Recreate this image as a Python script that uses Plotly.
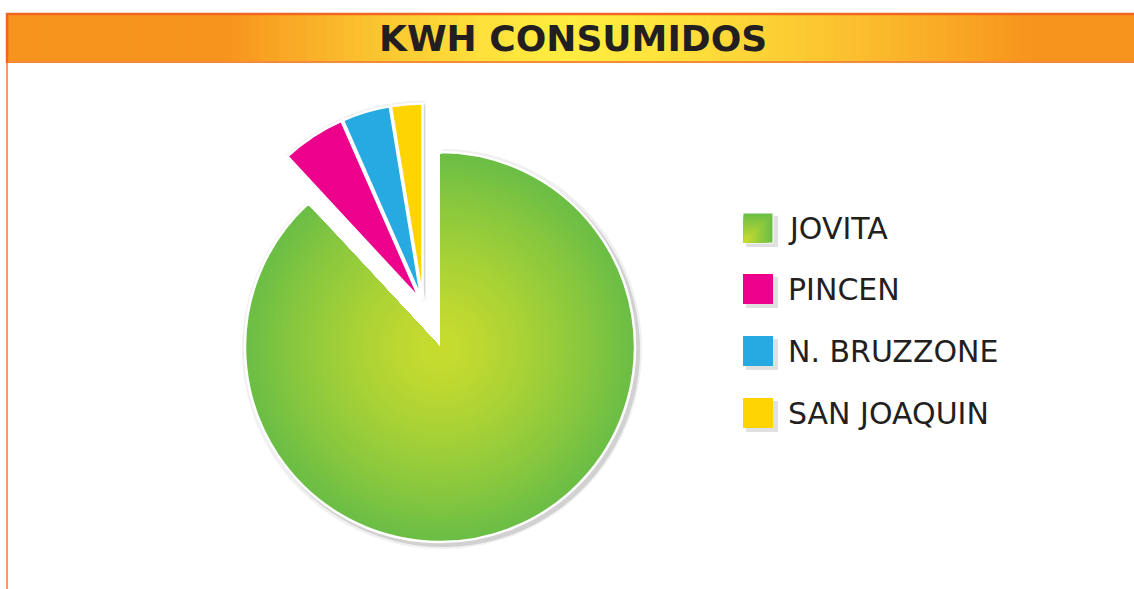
import plotly.graph_objects as go

# ---------------- data ----------------
categories = ["JOVITA", "PINCEN", "N. BRUZZONE", "SAN JOAQUIN"]
kwh_share = [88.1, 5.3, 4.0, 2.6]
slice_colors = ["#6BBE45", "#EC008C", "#27AAE1", "#FFD400"]
exploded = [False, True, True, True]
title_text = "KWH CONSUMIDOS"

# ---------------- layout helpers ----------------
W, H = 1134, 589
CLEAR = "rgba(0,0,0,0)"


def px(x):
    return x / W


def py(y):
    return 1 - y / H


def clamp(v):
    return min(max(v, 0.0), 1.0)


def hex2rgb(h):
    h = h.lstrip("#")
    return tuple(int(h[i:i + 2], 16) for i in (0, 2, 4))


def mix(c1, c2, t):
    a, b = hex2rgb(c1), hex2rgb(c2)
    return "rgb(%d,%d,%d)" % tuple(round(a[i] + (b[i] - a[i]) * t) for i in range(3))


def domain(cx, cy, radius, pull=0.0):
    s = radius * (1 + pull)
    return dict(x=[clamp(px(cx - s)), clamp(px(cx + s))],
                y=[clamp(py(cy + s)), clamp(py(cy - s))])


CX, CY, R = 440, 347, 195          # main (unexploded) pie centre / radius
GX, GY = 423, 304                  # centre of the exploded group
GPULL = 0.028

fig = go.Figure()


def pie(colors, dom, pull=0.0, line=None, hover=False):
    return go.Pie(
        labels=categories, values=kwh_share, sort=False, direction="clockwise",
        rotation=0, pull=pull, textinfo="none",
        hoverinfo=None if hover else "skip",
        marker=dict(colors=colors, line=line or dict(width=0)),
        domain=dom, showlegend=False,
    )


main_mask = [c if not e else CLEAR for c, e in zip(slice_colors, exploded)]
group_mask = [c if e else CLEAR for c, e in zip(slice_colors, exploded)]
gpulls = [GPULL if e else 0 for e in exploded]

# shadows
for off, grow, alpha in [(2, 5, 0.06), (3, 2, 0.13)]:
    sh = "rgba(0,0,0,%s)" % alpha
    fig.add_trace(pie([sh if not e else CLEAR for e in exploded],
                      domain(CX + off, CY + off, R + grow)))
    fig.add_trace(pie([sh if e else CLEAR for e in exploded],
                      domain(GX + off, GY + off, R + grow, GPULL), pull=gpulls))

# main green slice
fig.add_trace(pie(main_mask, domain(CX, CY, R),
                  line=dict(color=["white" if not e else CLEAR for e in exploded], width=2.5),
                  hover=True))

# radial gradient on the big slice (nested pies)
outer_c, inner_c = "#6BBE45", "#C9DC2E"
n = 40
for k in range(n):
    rad = (R - 2) * (1 - k / n)
    t = (rad / R) ** 1.3
    col = mix(inner_c, outer_c, t)
    fig.add_trace(pie([col if not e else CLEAR for e in exploded], domain(CX, CY, rad)))

# exploded group
fig.add_trace(pie(group_mask, domain(GX, GY, R, GPULL), pull=gpulls,
                  line=dict(color=["white" if e else CLEAR for e in exploded], width=2.5),
                  hover=True))

shapes = []
# title bar gradient
x0, x1, y0, y1 = 6, 1134, 14, 62
edge_c, mid_c = "#F7941D", "#FFEC40"
center_x = 570
steps = 120
for i in range(steps):
    a = x0 + (x1 - x0) * i / steps
    b = x0 + (x1 - x0) * (i + 1) / steps + 2
    m = (a + b) / 2
    if m < center_x:
        d = (center_x - m) / (center_x - 230)
    else:
        d = (m - center_x) / (1030 - center_x)
    d = min(max(d, 0), 1)
    t = d ** 1.4
    shapes.append(dict(type="rect", xref="paper", yref="paper",
                       x0=px(a), x1=clamp(px(b)), y0=py(y1), y1=py(y0),
                       fillcolor=mix(mid_c, edge_c, t), line=dict(width=0), layer="below"))
# bar borders
shapes.append(dict(type="line", xref="paper", yref="paper", x0=px(x0), x1=px(x1), y0=py(14), y1=py(14),
                   line=dict(color="#F26522", width=2.5)))
shapes.append(dict(type="line", xref="paper", yref="paper", x0=px(x0), x1=px(x1), y0=py(62), y1=py(62),
                   line=dict(color="#F58A3A", width=2)))
shapes.append(dict(type="line", xref="paper", yref="paper", x0=px(7), x1=px(7), y0=py(13), y1=py(63),
                   line=dict(color="#F26522", width=2.5)))
# left rule
shapes.append(dict(type="line", xref="paper", yref="paper", x0=px(7), x1=px(7), y0=py(63), y1=0,
                   line=dict(color="#F59A62", width=2)))

annotations = [dict(text="<b>" + title_text + "</b>", xref="paper", yref="paper", x=px(573), y=py(39),
                    xanchor="center", yanchor="middle", showarrow=False,
                    font=dict(family="DejaVu Sans", size=36, color="#231F20"))]

# manual legend
leg_y = [228, 289, 351, 413]
for lab, col, yc, e in zip(categories, slice_colors, leg_y, exploded):
    shapes.append(dict(type="rect", xref="paper", yref="paper",
                       x0=px(746), x1=px(778), y0=py(yc + 19), y1=py(yc - 12),
                       fillcolor="rgba(0,0,0,0.12)", line=dict(width=0)))
    shapes.append(dict(type="rect", xref="paper", yref="paper",
                       x0=px(743), x1=px(773), y0=py(yc + 15), y1=py(yc - 15),
                       fillcolor=col, line=dict(width=1 if not e else 0, color="white")))
    if not e:
        # radial-ish gradient swatch, brightest at lower-left
        for j in range(1, 10):
            s = 30 * (1 - j / 10)
            shapes.append(dict(type="rect", xref="paper", yref="paper",
                               x0=px(743.5), x1=px(743.5 + s), y0=py(yc + 14.5), y1=py(yc + 14.5 - s),
                               fillcolor=mix(outer_c, inner_c, j / 9), line=dict(width=0)))
    annotations.append(dict(text=lab, xref="paper", yref="paper", x=px(786), y=py(yc),
                            xanchor="left", yanchor="middle", showarrow=False,
                            font=dict(family="DejaVu Sans", size=30, color="#231F20")))

fig.update_layout(
    width=W, height=H, margin=dict(l=0, r=0, t=0, b=0),
    paper_bgcolor="white", plot_bgcolor="white",
    showlegend=False, shapes=shapes, annotations=annotations,
)

fig.write_html("out.html", config={"displayModeBar": False},
               post_script="document.body.style.margin='0';document.body.style.overflow='hidden';")
